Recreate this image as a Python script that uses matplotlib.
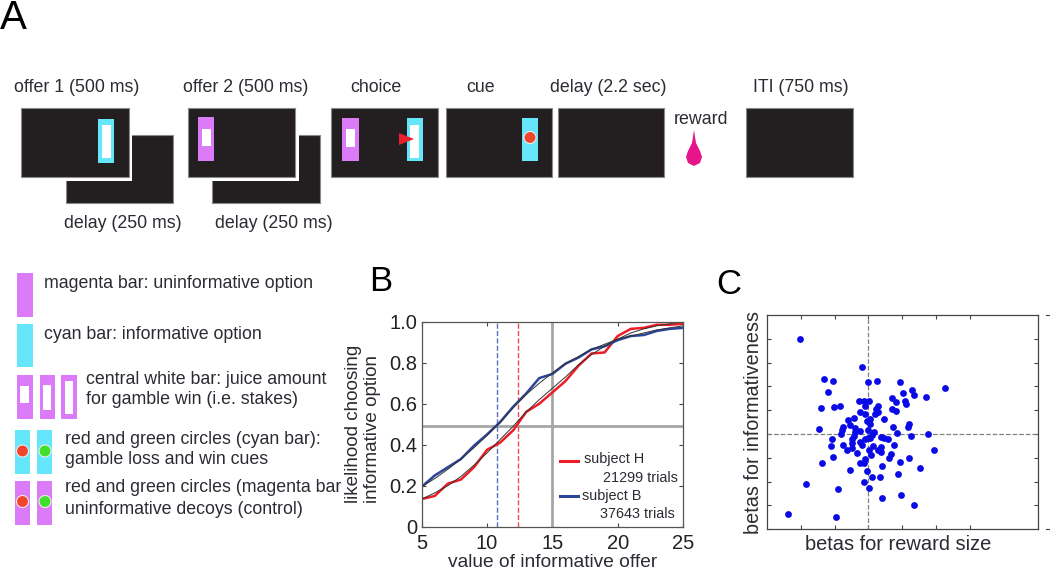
import numpy as np
import matplotlib.pyplot as plt
from matplotlib.patches import Rectangle, Circle, Polygon

plt.rcParams['font.family'] = ['Liberation Sans', 'DejaVu Sans']

# panel B
offer_values = [5, 6, 7, 8, 9, 10, 11, 12, 13, 14, 15, 16, 17, 18, 19, 20, 21, 22, 23, 24, 25]
subject_h = [.135, .15, .21, .23, .29, .375, .41, .47, .56, .60, .655, .71, .785, .845, .85, .93, .965, .97, .985, .985, .99]
subject_b = [.195, .25, .29, .33, .395, .45, .51, .585, .65, .725, .745, .795, .825, .865, .88, .91, .93, .935, .955, .965, .97]
fit_h = [.135, .165, .20, .245, .30, .36, .425, .49, .56, .62, .675, .73, .79, .84, .88, .915, .945, .965, .98, .99, 1.0]
fit_b = [.195, .235, .28, .33, .385, .445, .51, .58, .645, .70, .75, .795, .83, .865, .89, .915, .93, .945, .96, .97, .98]
indiff_h = 12.4
indiff_b = 10.75

# panel C
beta_reward = [-2.02, -.19, -1.31, -1.04, 0, .25, .93, 2.25, 1.27, -1.19, 1.03, 1.34, .70, 1.69, -.29, -.12, .03, .81, 1.09, 1.11,
               -1.41, -1.03, -.83, -.09, .27, .23, .70, .82, -.25, -.09, .18, .29, -.44, -.59, .06, -.04, .47, -.55, .04, -.75,
               -.41, .72, 1.21, 1.18, -1.47, -.78, -.26, -.01, -.41, -.82, .17, .84, 1.75, 1.25, -.43, .11, .06, .38, .47, .58,
               -1.08, -.47, -.11, -.26, -.01, -1.09, -.74, -.48, -.19, .13, .76, -.48, -.64, .37, .27, .02, .38, 1.93, -.34, .07,
               .66, .60, -1.05, 1.19, -.11, -.26, -.13, -1.37, .92, .39, -.53, 1.53, -.05, .87, .11, .35, -.14, -1.83, .03, -.91,
               .95, .40, 1.33, -2.37, -.97]
beta_info = [4.00, 2.81, 2.31, 2.21, 2.17, 2.24, 2.17, 1.92, 1.86, 1.76, 1.71, 1.65, 1.53, 1.54, 1.39, 1.38, 1.40, 1.35, 1.40, 1.26,
             1.11, 1.13, 1.17, 1.19, 1.19, 1.07, 1.04, .97, .92, .86, .86, .93, .69, .58, .63, .54, .64, .36, .43, .29,
             .26, .31, .43, .28, .21, .15, .13, .18, .08, 0, .08, .03, 0, -.07, -.08, -.06, -.15, -.13, -.18, -.22,
             -.19, -.22, -.19, -.32, -.18, -.49, -.47, -.39, -.47, -.50, -.46, -.57, -.67, -.56, -.67, -.68, -.75, -.65, -.81, -.89,
             -.83, -.99, -.96, -1.01, -1.06, -1.21, -1.22, -1.21, -1.17, -1.33, -1.50, -1.43, -1.57, -1.67, -1.79, -1.82, -2.01, -2.10, -2.25, -2.32,
             -2.57, -2.69, -2.96, -3.36, -3.49]

BLACK = '#231f20'
CYAN = '#66e6fb'
MAGENTA = '#dc7bf7'
TEXT = '#2b2b33'
W, H = 1050, 572


def box(ax, x0, y0, x1, y1, color, edge='none', lw=0):
    ax.add_patch(Rectangle((x0, y0), x1 - x0, y1 - y0, facecolor=color, edgecolor=edge, linewidth=lw))


def screen(ax, x0, y0, x1, y1):
    box(ax, x0, y0, x1, y1, BLACK, '#8a8a8a', 0.8)


def dot(ax, x, y, color):
    ax.add_patch(Circle((x, y), 6, facecolor=color, edgecolor='#f4e8e8', linewidth=0.8))


fig = plt.figure(figsize=(W / 100, H / 100), dpi=100)

# schematic drawn in pixel units
bg = fig.add_axes([0, 0, 1, 1])
bg.set_xlim(0, W)
bg.set_ylim(H, 0)
bg.axis('off')

bg.text(0, 29, 'A', fontsize=29, color='black', va='baseline')
bg.text(369, 291, 'B', fontsize=25, color='black', va='baseline')
bg.text(716, 294, 'C', fontsize=25, color='black', va='baseline')

# delay screens sit behind the offers, white gap round the front one
screen(bg, 66, 135, 172.5, 203)
box(bg, 19, 106, 132, 181, 'white')
screen(bg, 21, 108, 129, 177)
box(bg, 98, 119, 113.5, 163, CYAN)
box(bg, 101.5, 125, 110.5, 158, 'white')

screen(bg, 212, 135, 320, 203)
box(bg, 186, 106, 299, 181, 'white')
screen(bg, 188, 108, 294.5, 177)
box(bg, 197.5, 117, 214, 161, MAGENTA)
box(bg, 201.5, 129, 211, 146, 'white')

screen(bg, 331, 107.5, 437.5, 177)
box(bg, 342, 117.5, 359, 161, MAGENTA)
box(bg, 346, 129, 355, 146.5, 'white')
box(bg, 407, 117.5, 423, 161, CYAN)
box(bg, 410, 125, 419, 158, 'white')
bg.add_patch(Polygon([(399, 133), (414, 139), (399, 145)], facecolor='#e8202a', edgecolor='none'))

screen(bg, 446, 107.5, 552, 177)
box(bg, 522, 117.5, 538, 161, CYAN)
dot(bg, 530, 137.5, '#f0452c')
screen(bg, 557.5, 107.5, 664, 177)
screen(bg, 746, 108, 853, 177)

bg.add_patch(Polygon([(694, 130), (696, 143), (700, 151), (702, 157), (700, 163), (694, 166),
                      (688, 163), (686, 157), (688, 151), (692, 143)], facecolor='#e6158c', edgecolor='none'))

for label, x, y in [('offer 1 (500 ms)', 14, 88), ('offer 2 (500 ms)', 183, 88), ('choice', 350, 88),
                    ('cue', 466, 88), ('delay (2.2 sec)', 550, 88), ('ITI (750 ms)', 753, 88),
                    ('reward', 674, 119), ('delay (250 ms)', 64, 223), ('delay (250 ms)', 215, 223)]:
    bg.text(x, y, label, fontsize=12.8, color=TEXT, va='center')

# key
box(bg, 17, 272.5, 33, 317, MAGENTA)
box(bg, 17, 324, 33, 367, CYAN)
for x0, x1, wx0, wx1, wy0, wy1 in [(17, 33, 20, 29, 386, 403), (40, 55, 43, 51, 385, 410), (61, 77, 65, 73, 381, 414)]:
    box(bg, x0, 375, x1, 418.5, MAGENTA)
    box(bg, wx0, wy0, wx1, wy1, 'white')
for x0, x1, cx, col in [(14.5, 30, 22.5, '#f0452c'), (37, 52, 45, '#3fe02a')]:
    box(bg, x0, 430, x1, 474, CYAN)
    dot(bg, cx, 451, col)
    box(bg, x0, 481, x1, 525, MAGENTA)
    dot(bg, cx, 501.5, col)

for label, x, y in [('magenta bar: uninformative option', 44, 283), ('cyan bar: informative option', 43.5, 334.5),
                    ('central white bar: juice amount', 86, 379), ('for gamble win (i.e. stakes)', 86, 400),
                    ('red and green circles (cyan bar):', 65, 439), ('gamble loss and win cues', 65, 460),
                    ('red and green circles (magenta bar', 65, 488), ('uninformative decoys (control)', 65, 509)]:
    bg.text(x, y, label, fontsize=12.8, color=TEXT, va='center')

# stray tick marks right of panel C
bg.plot([1046, 1050], [315, 315], color='#444444', lw=0.8)
bg.plot([1046, 1050], [529, 529], color='#444444', lw=0.8)

# panel B
ax = fig.add_axes([421.7 / W, 1 - 526.7 / H, (683 - 421.7) / W, (526.7 - 321.7) / H])
ax.axvline(15, color='#a6a6a6', lw=2)
ax.axhline(0.49, color='#a6a6a6', lw=2)
ax.axvline(indiff_b, color='#5a6fb8', lw=1, ls='--')
ax.axvline(indiff_h, color='#ee4a55', lw=1, ls='--')
ax.plot(offer_values, subject_h, color='#ee1c25', lw=1.8, label='subject H')
ax.plot(offer_values, subject_b, color='#2b459b', lw=1.8, label='subject B')
ax.plot(offer_values, fit_h, color='#333333', lw=0.7)
ax.plot(offer_values, fit_b, color='#333333', lw=0.7)
ax.set_xlim(5, 25)
ax.set_ylim(0, 1)
ax.set_xticks([5, 10, 15, 20, 25])
ax.set_yticks([0, .2, .4, .6, .8, 1.0])
ax.set_yticklabels(['0', '0.2', '0.4', '0.6', '0.8', '1.0'])
ax.tick_params(direction='in', top=True, right=True, length=3, width=0.8, color='#444444', labelsize=14.5,
               labelcolor='#222222', pad=3)
ax.tick_params(axis='x', pad=5.5)
for s in ax.spines.values():
    s.set_color('#555555')
    s.set_linewidth(0.9)
ax.set_xlabel('value of informative offer', fontsize=13.8, color=TEXT, labelpad=0.5)
ax.set_ylabel('likelihood choosing\ninformative option', fontsize=13.6, color=TEXT, labelpad=6, linespacing=1.15,
              multialignment='left')
ax.plot([15.6, 17.0], [0.32, 0.32], color='#ee1c25', lw=2.2)
ax.plot([15.6, 17.0], [0.15, 0.15], color='#2b459b', lw=2.2)
ax.text(17.4, 0.33, 'subject H', fontsize=10.4, color=TEXT, va='center')
ax.text(24.6, 0.24, '21299 trials', fontsize=10.4, color=TEXT, va='center', ha='right')
ax.text(17.24, 0.15, 'subject B', fontsize=10.4, color=TEXT, va='center')
ax.text(24.4, 0.06, '37643 trials', fontsize=10.4, color=TEXT, va='center', ha='right')

# panel C
ax2 = fig.add_axes([766.7 / W, 1 - 529.3 / H, (1038 - 766.7) / W, (529.3 - 315) / H])
ax2.axvline(0, color='#808080', lw=0.9, ls='--')
ax2.axhline(0, color='#808080', lw=0.9, ls='--')
ax2.scatter(beta_reward, beta_info, s=24, color='#0a0ae6', linewidths=0, zorder=3)
ax2.set_xlim(-3, 5)
ax2.set_ylim(-4, 5)
ax2.set_xticks([-2, -1, 0, 1, 2, 3])
ax2.set_yticks([-3, -2, -1, 0, 1, 2, 3, 4])
ax2.tick_params(direction='in', top=True, right=True, left=True, bottom=True, length=3, width=0.8, color='#444444',
                labelleft=False, labelbottom=False)
for s in ax2.spines.values():
    s.set_color('#444444')
    s.set_linewidth(0.9)
ax2.set_xlabel('betas for reward size', fontsize=14.4, color=TEXT, labelpad=4, x=0.485)
ax2.set_ylabel('betas for informativeness', fontsize=14.3, color=TEXT, labelpad=3)

fig.savefig('out.png', dpi=100)
